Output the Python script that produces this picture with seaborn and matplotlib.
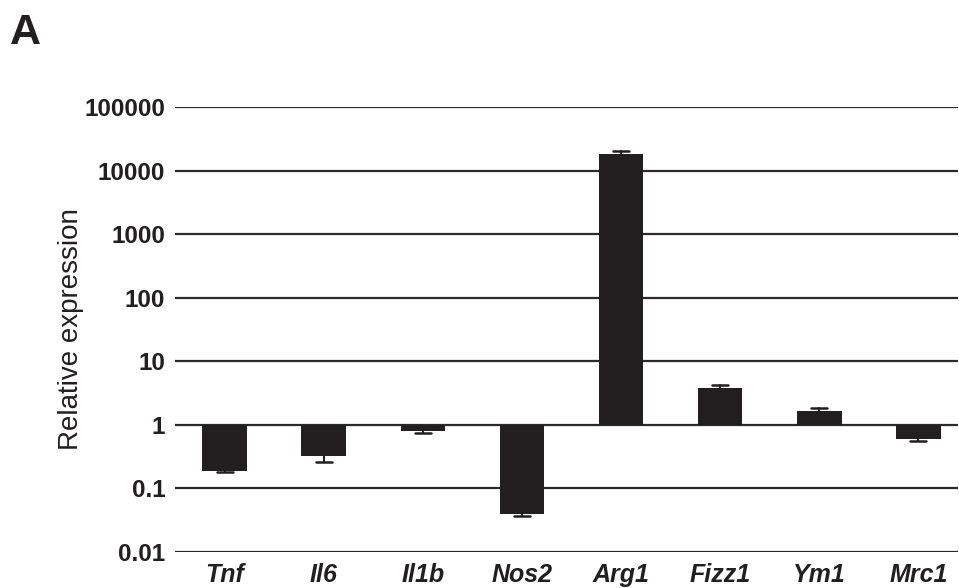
import numpy as np
import pandas as pd
import matplotlib
matplotlib.use('Agg')
import matplotlib.pyplot as plt
import seaborn as sns

genes = ['Tnf', 'Il6', 'Il1b', 'Nos2', 'Arg1', 'Fizz1', 'Ym1', 'Mrc1']
expression = [0.19, 0.32, 0.79, 0.039, 18000, 3.8, 1.68, 0.60]
error_end = [0.18, 0.26, 0.74, 0.037, 20000, 4.25, 1.83, 0.56]
tick_values = [0.01, 0.1, 1, 10, 100, 1000, 10000, 100000]
tick_labels = ['0.01', '0.1', '1', '10', '100', '1000', '10000', '100000']

sns.set_style('white')
plt.rcParams['font.family'] = ['Liberation Sans', 'DejaVu Sans']

df = pd.DataFrame({'gene': genes, 'log_expr': np.log10(expression)})
bar_color = '#231f20'

fig = plt.figure(figsize=(9.59, 5.88), dpi=100)
ax = fig.add_axes([0.1825, 0.0612, 0.8165, 0.7568])

# horizontal gridlines at every decade
for v in np.log10(tick_values):
    ax.axhline(v, color='#2a2a2a', linewidth=1.6, zorder=0)

sns.barplot(data=df, x='gene', y='log_expr', color=bar_color, width=0.45,
            saturation=1, errorbar=None, linewidth=0, ax=ax, zorder=2)

# one-sided error bars pointing away from baseline
xs = np.arange(len(genes))
lo = np.log10(expression)
hi = np.log10(error_end)
for x, a, b in zip(xs, lo, hi):
    ax.plot([x, x], [a, b], color=bar_color, linewidth=1.5, zorder=3)
    ax.plot([x - 0.08, x + 0.08], [b, b], color=bar_color, linewidth=1.8, zorder=3)

ax.set_ylim(-2, 5)
ax.set_xlim(-0.5, 7.4)
ax.set_yticks(np.log10(tick_values))
ax.set_yticklabels(tick_labels, fontsize=17.5, fontweight='bold', color='#231f20')
ax.set_xticks(xs)
ax.set_xticklabels(genes, fontsize=18, fontweight='bold', fontstyle='italic', color='#231f20')
ax.tick_params(axis='y', length=0, pad=7)
ax.tick_params(axis='x', length=0, pad=8)
ax.set_xlabel('')
ax.set_ylabel('Relative expression', fontsize=20, color='#231f20', labelpad=0)
for s in ax.spines.values():
    s.set_visible(False)

fig.text(0.010, 0.925, 'A', fontsize=31, fontweight='bold', color='#231f20')

fig.savefig('out.png', dpi=100)
